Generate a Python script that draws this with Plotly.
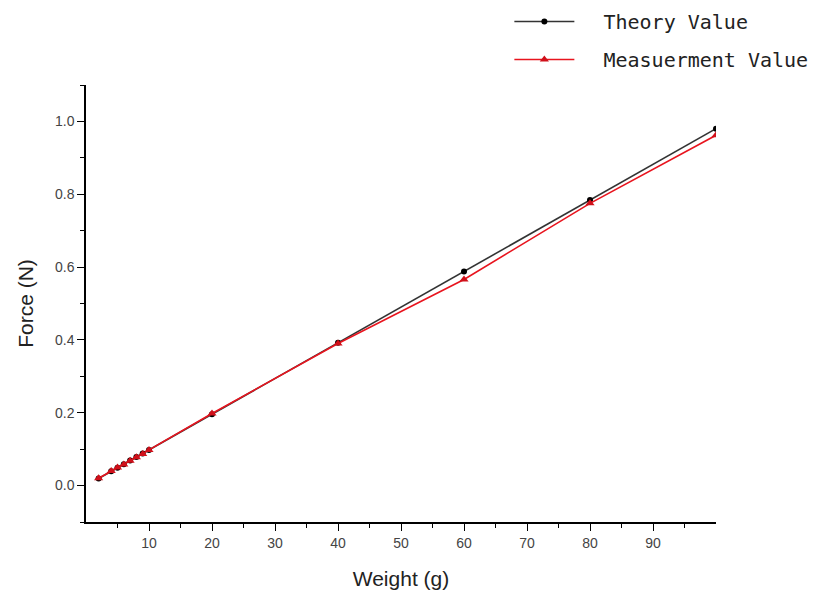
import plotly.graph_objects as go

weight = [2, 4, 5, 6, 7, 8, 9, 10, 20, 40, 60, 80, 100]
theory = [0.0196, 0.0392, 0.049, 0.0588, 0.0686, 0.0784, 0.0882, 0.098, 0.196, 0.392, 0.588, 0.784, 0.98]
measured = [0.02, 0.04, 0.05, 0.058, 0.068, 0.078, 0.087, 0.098, 0.198, 0.39, 0.566, 0.775, 0.962]

x_ticks = [10, 20, 30, 40, 50, 60, 70, 80, 90]
y_ticks = [0.0, 0.2, 0.4, 0.6, 0.8, 1.0]

fig = go.Figure()
fig.add_trace(go.Scatter(
    x=weight, y=theory, name="\u00a0\u00a0Theory Value", mode="lines+markers", legendgroup="a",
    line=dict(color="#333333", width=1.6),
    marker=dict(symbol="circle", size=6, color="#000000"),
))
fig.add_trace(go.Scatter(
    x=weight, y=measured, name="\u00a0\u00a0Measuerment Value", mode="lines+markers", legendgroup="b",
    line=dict(color="#e8141e", width=1.6),
    marker=dict(symbol="triangle-up", size=8, color="#d0101a"),
))

axis_common = dict(
    showline=True, linecolor="black", linewidth=1.5,
    ticks="outside", ticklen=7, tickwidth=1.2, tickcolor="black",
    showgrid=False, zeroline=False, mirror=False, automargin=False,
    tickfont=dict(family="Liberation Sans, Arial", size=14, color="#444444"),
)

fig.update_xaxes(
    range=[0, 100], tickvals=x_ticks, ticktext=[str(v) for v in x_ticks],
    title=dict(text="Weight (g)", font=dict(family="Liberation Sans, Arial", size=21, color="#222222"), standoff=22),
    minor=dict(ticks="outside", ticklen=4, tickcolor="black", tickvals=[5, 15, 25, 35, 45, 55, 65, 75, 85, 95]),
    **axis_common,
)
fig.update_yaxes(
    range=[-0.1, 1.1], tickvals=y_ticks, ticktext=["%.1f" % v for v in y_ticks],
    title=dict(text="Force (N)", font=dict(family="Liberation Sans, Arial", size=21, color="#222222"), standoff=16),
    minor=dict(ticks="outside", ticklen=4, tickcolor="black", tickvals=[-0.1, 0.1, 0.3, 0.5, 0.7, 0.9, 1.1]),
    **axis_common,
)

fig.update_layout(
    width=818, height=609,
    margin=dict(l=78, r=110, t=77, b=95, autoexpand=False),
    paper_bgcolor="white", plot_bgcolor="white",
    legend=dict(
        x=0.672, y=1.19, xanchor="left", yanchor="top",
        font=dict(family="DejaVu Sans Mono, Liberation Mono", size=20, color="#222222"),
        itemwidth=60, tracegroupgap=9, traceorder="grouped", bgcolor="rgba(0,0,0,0)",
    ),
    showlegend=True,
)

fig.write_html("out.html")
